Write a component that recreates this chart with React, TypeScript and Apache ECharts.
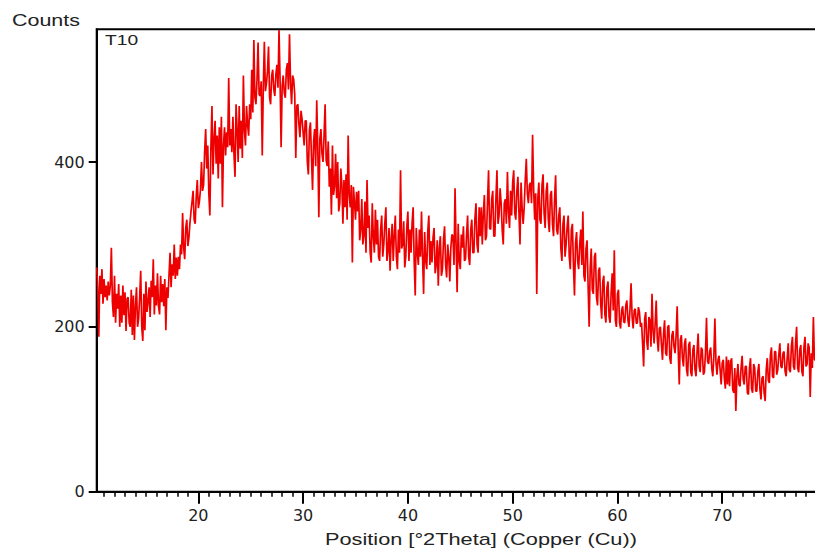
import React, { useEffect, useRef } from "react";
import * as echarts from "echarts";

// Scan sampling grid (degrees 2Theta)
const START = 10.3;
const STEP = 0.1;

const COUNTS: number[] = [
  272, 248, 188, 262, 240, 270, 228, 258, 236, 250,
  232, 255, 238, 250, 296, 230, 212, 262, 205, 240,
  222, 252, 200, 238, 205, 250, 214, 242, 195, 234,
  236, 205, 200, 245, 190, 238, 184, 226, 248, 200,
  210, 236, 268, 200, 183, 240, 196, 255, 218, 230,
  248, 212, 256, 236, 282, 215, 250, 226, 265, 225,
  215, 262, 230, 252, 225, 258, 196, 248, 235, 262,
  290, 248, 276, 262, 300, 258, 284, 262, 285, 270,
  300, 288, 338, 296, 282, 320, 330, 298, 308, 326,
  340, 352, 365, 330, 325, 358, 378, 344, 352, 366,
  400, 365, 372, 412, 440, 392, 420, 362, 335, 418,
  468, 385, 428, 450, 398, 432, 380, 442, 398, 455,
  345, 420, 442, 408, 436, 418, 502, 420, 440, 412,
  455, 410, 382, 470, 440, 400, 468, 416, 450, 405,
  505, 438, 420, 468, 445, 432, 470, 452, 512, 460,
  548, 478, 470, 500, 545, 482, 480, 498, 408, 490,
  546, 486, 495, 510, 540, 478, 470, 505, 512, 488,
  480, 506, 518, 490, 560, 500, 418, 492, 505, 484,
  478, 512, 520, 488, 555, 496, 470, 505, 500, 482,
  405, 468, 470, 446, 430, 462, 452, 436, 420, 450,
  450, 400, 385, 438, 448, 405, 366, 425, 440, 395,
  475, 418, 333, 428, 440, 410, 400, 432, 470, 402,
  395, 425, 370, 392, 336, 420, 360, 370, 410, 356,
  400, 340, 350, 392, 372, 325, 378, 345, 385, 330,
  432, 360, 345, 372, 278, 370, 352, 330, 364, 340,
  365, 305, 318, 355, 300, 310, 352, 290, 378, 320,
  335, 290, 278, 350, 310, 290, 342, 300, 330, 285,
  280, 318, 335, 285, 300, 326, 345, 280, 292, 320,
  268, 306, 325, 280, 312, 335, 285, 270, 318, 290,
  390, 295, 300, 328, 272, 285, 322, 340, 280, 318,
  290, 326, 345, 280, 238, 320, 290, 275, 318, 285,
  340, 285, 240, 315, 280, 270, 316, 335, 275, 304,
  278, 308, 320, 265, 275, 305, 250, 296, 310, 262,
  270, 306, 322, 275, 260, 300, 285, 255, 296, 312,
  310, 275, 368, 300, 242, 325, 280, 270, 312, 296,
  322, 280, 282, 312, 335, 285, 275, 318, 330, 290,
  290, 332, 350, 300, 290, 345, 310, 345, 300, 338,
  360, 305, 310, 352, 390, 320, 318, 355, 365, 310,
  310, 355, 390, 325, 335, 368, 350, 318, 300, 350,
  355, 325, 388, 340, 320, 365, 335, 375, 390, 338,
  330, 365, 382, 338, 300, 375, 345, 325, 345, 378,
  404, 362, 350, 372, 375, 350, 433, 368, 330, 362,
  240, 356, 375, 330, 325, 372, 385, 338, 320, 364,
  375, 330, 315, 360, 365, 325, 310, 355, 384, 318,
  312, 335, 345, 295, 280, 325, 335, 285, 300, 322,
  335, 285, 270, 318, 325, 275, 238, 302, 315, 280,
  270, 300, 318, 275, 340, 262, 255, 295, 305, 250,
  200, 272, 295, 245, 240, 285, 290, 236, 226, 268,
  272, 228, 210, 255, 262, 215, 205, 248, 255, 212,
  205, 242, 265, 220, 293, 208, 200, 240, 245, 205,
  198, 220, 225, 206, 205, 226, 232, 208, 200, 222,
  253, 212, 198, 220, 222, 204, 205, 224, 218, 200,
  205, 180, 152, 210, 218, 182, 172, 212, 208, 176,
  240, 196, 180, 204, 232, 186, 170, 198, 200, 178,
  160, 192, 208, 168, 165, 200, 202, 162, 155, 190,
  195, 176, 168, 190, 225, 172, 130, 184, 190, 162,
  152, 180, 186, 148, 140, 178, 182, 145, 140, 172,
  178, 148, 140, 170, 192, 152, 145, 175, 172, 142,
  145, 168, 211, 158, 155, 170, 175, 150, 140, 164,
  210, 158, 142, 160, 165, 148, 130, 156, 160, 138,
  125, 164, 130, 160, 128, 158, 162, 124, 120, 150,
  98, 140, 155, 130, 128, 150, 165, 136, 130, 152,
  152, 120, 118, 150, 162, 125, 120, 155, 150, 122,
  122, 146, 155, 124, 112, 138, 140, 120, 110, 148,
  162, 135, 132, 166, 175, 140, 138, 170, 170, 142,
  148, 166, 180, 152, 150, 168, 170, 146, 140, 162,
  180, 148, 145, 176, 188, 152, 148, 180, 200, 150,
  145, 172, 178, 146, 140, 175, 188, 152, 155, 180,
  175, 115, 168, 150, 212, 160, 160, 176, 180, 156,
  150, 172, 190, 162, 165, 178, 175, 158,
];

const X_MAJOR_TICKS = [20, 30, 40, 50, 60, 70];
const Y_TICKS = [0, 200, 400];
const SAMPLE_LABEL = "T10";
const Y_NAME = "Counts";
const X_NAME = "Position [°2Theta] (Copper (Cu))";

export default function App() {
  const ref = useRef<HTMLDivElement>(null);

  useEffect(() => {
    if (!ref.current) return;
    const chart = echarts.init(ref.current, undefined, { renderer: "svg" });
    const data = COUNTS.map((v, i) => [Number((START + i * STEP).toFixed(2)), v]);
    const minorTicks: number[] = [];
    for (let d = 11; d <= 80; d++) if (d % 10 !== 0) minorTicks.push(d);

    const axisLabelStyle = {
      fontFamily: "DejaVu Sans",
      fontSize: 16,
      color: "#222",
    };

    chart.setOption({
      animation: false,
      grid: {
        left: 96.7,
        top: 29.3,
        right: 0,
        bottom: 62.3,
        show: true,
        borderColor: "#000",
        borderWidth: 2,
        backgroundColor: "transparent",
      },
      xAxis: [
        {
          type: "value",
          min: 10.3,
          max: 80,
          position: "bottom",
          axisLine: { show: true, onZero: false, lineStyle: { color: "#000", width: 2 } },
          axisTick: {
            show: true,
            length: 12,
            customValues: X_MAJOR_TICKS,
            lineStyle: { color: "#000", width: 2 },
          },
          axisLabel: { ...axisLabelStyle, margin: 16, customValues: X_MAJOR_TICKS },
          splitLine: { show: false },
        },
        {
          type: "value",
          min: 10.3,
          max: 80,
          position: "bottom",
          axisLine: { show: false, onZero: false },
          axisTick: {
            show: true,
            length: 5,
            customValues: minorTicks,
            lineStyle: { color: "#000", width: 1.5 },
          },
          axisLabel: { show: false },
          splitLine: { show: false },
        },
      ],
      yAxis: {
        type: "value",
        min: 0,
        max: 561,
        axisLine: { show: true, onZero: false, lineStyle: { color: "#000", width: 2 } },
        axisTick: {
          show: true,
          length: 8,
          customValues: Y_TICKS,
          lineStyle: { color: "#000", width: 2 },
        },
        axisLabel: { ...axisLabelStyle, margin: 12, customValues: Y_TICKS },
        splitLine: { show: false },
      },
      series: [
        {
          type: "line",
          data,
          xAxisIndex: 0,
          yAxisIndex: 0,
          symbol: "none",
          showSymbol: false,
          lineStyle: { color: "#ee0000", width: 1.7 },
          z: 1,
        },
      ],
      graphic: [
        {
          type: "text",
          left: 12,
          top: 12,
          scaleX: 1.34,
          style: {
            text: Y_NAME,
            fontFamily: "Liberation Sans",
            fontSize: 16,
            fill: "#222",
          },
        },
        {
          type: "text",
          left: 105,
          top: 32,
          scaleX: 1.28,
          style: {
            text: SAMPLE_LABEL,
            fontFamily: "Liberation Sans",
            fontSize: 15,
            fill: "#222",
          },
        },
        {
          type: "text",
          left: 325,
          top: 532,
          scaleX: 1.36,
          style: {
            text: X_NAME,
            fontFamily: "Liberation Sans",
            fontSize: 16,
            fill: "#222",
          },
        },
      ],
    });

    return () => chart.dispose();
  }, []);

  return (
    <div
      style={{
        position: "absolute",
        left: 0,
        top: 0,
        width: 815,
        height: 554,
        overflow: "hidden",
      }}
    >
      <div ref={ref} style={{ width: 827, height: 554 }} />
    </div>
  );
}
